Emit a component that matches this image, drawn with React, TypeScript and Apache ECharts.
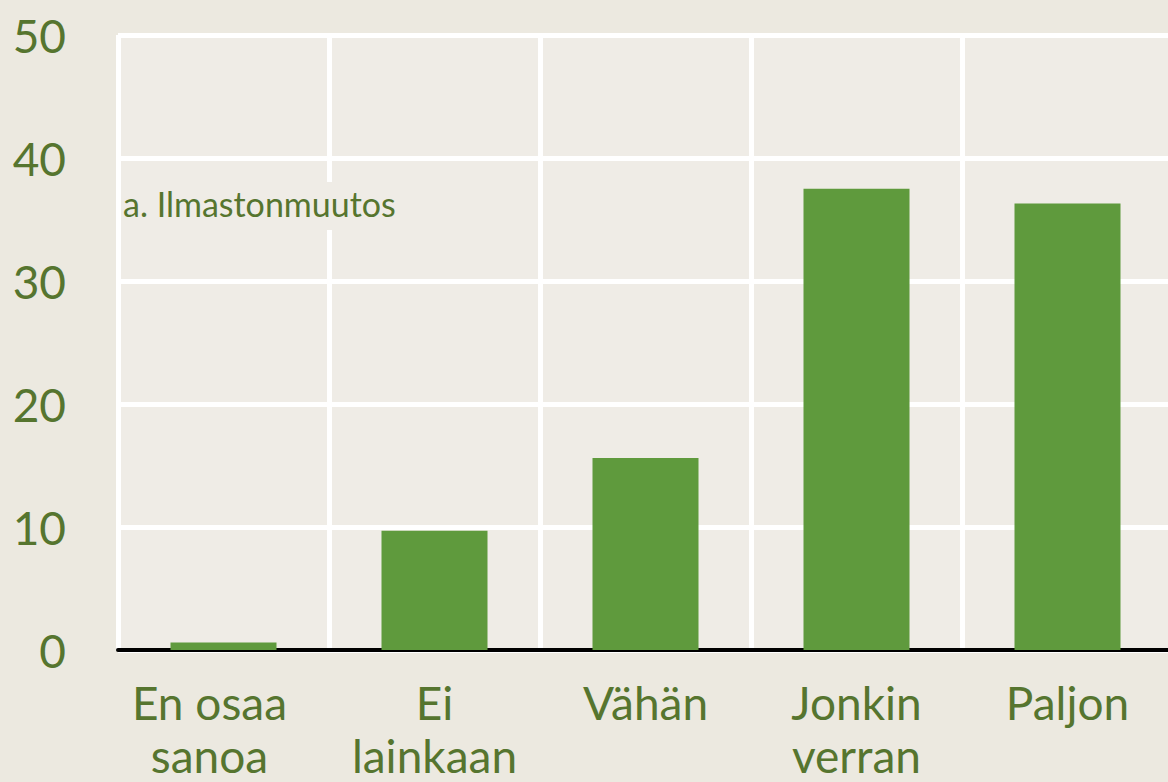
import React, { useEffect, useRef } from "react";
import * as echarts from "echarts";

const categories = ["En osaa\nsanoa", "Ei\nlainkaan", "Vähän", "Jonkin\nverran", "Paljon"];
const values = [0.6, 9.7, 15.6, 37.5, 36.3];
const yTicks = [0, 10, 20, 30, 40, 50];
const annotation = "a. Ilmastonmuutos";

const TEXT = "#56752F";
const BAR = "#5F9A3D";
const PAGE_BG = "#ECE9E0";
const PLOT_BG = "#EFECE6";
const FONT = "Lato";

export default function App() {
  const ref = useRef<HTMLDivElement>(null);
  useEffect(() => {
    if (!ref.current) return;
    const chart = echarts.init(ref.current, null, { renderer: "svg" });
    chart.setOption({
      animation: false,
      backgroundColor: PAGE_BG,
      grid: {
        left: 118,
        right: 0,
        top: 35,
        bottom: 130,
        show: true,
        backgroundColor: PLOT_BG,
        borderWidth: 0,
      },
      xAxis: {
        type: "category",
        data: categories.map((c, i) =>
          i === 0 ? { value: c, textStyle: { padding: [0, 28, 0, 0] } } : c
        ),
        axisLine: { show: true, lineStyle: { color: "#000", width: 4 } },
        axisTick: { show: false },
        splitLine: { show: true, lineStyle: { color: "#FFFFFF", width: 5 } },
        axisLabel: {
          color: TEXT,
          fontFamily: FONT,
          fontSize: 46,
          lineHeight: 53,
          margin: 26,
          interval: 0,
        },
      },
      yAxis: {
        type: "value",
        min: yTicks[0],
        max: yTicks[yTicks.length - 1],
        interval: 10,
        axisLine: { show: false },
        axisTick: { show: false },
        splitLine: { show: true, lineStyle: { color: "#FFFFFF", width: 5 } },
        axisLabel: {
          color: TEXT,
          fontFamily: FONT,
          fontSize: 46,
          margin: 52,
          padding: [0, 0, 10, 0],
        },
      },
      series: [
        {
          type: "bar",
          data: values,
          barWidth: 106,
          itemStyle: { color: BAR },
          z: 3,
        },
      ],
      graphic: [
        {
          type: "rect",
          left: 122,
          top: 182,
          shape: { width: 285, height: 48 },
          style: { fill: PLOT_BG },
          z: 10,
        },
        {
          type: "text",
          left: 123,
          top: 186,
          style: {
            text: annotation,
            fill: TEXT,
            font: `34px ${FONT}`,
          },
          z: 11,
        },
      ],
    });
    return () => chart.dispose();
  }, []);
  return (
    <div
      style={{
        position: "fixed",
        left: 0,
        top: 0,
        width: 1168,
        height: 782,
        overflow: "hidden",
        background: PAGE_BG,
      }}
    >
      <div ref={ref} style={{ width: 1173, height: 782 }} />
    </div>
  );
}
